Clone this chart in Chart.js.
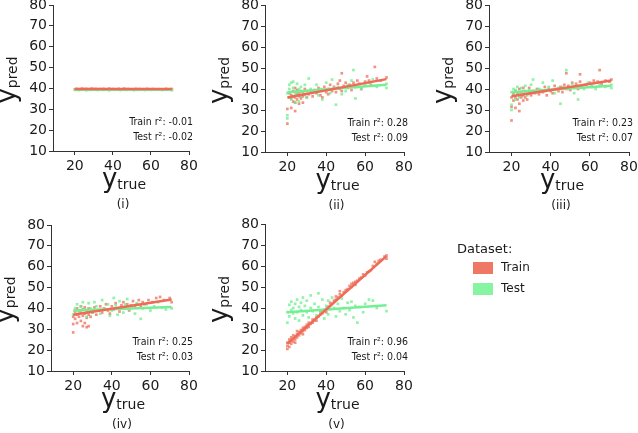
<!DOCTYPE html>
<html><head><meta charset="utf-8">
<script src="https://cdn.jsdelivr.net/npm/chart.js@4"></script>
<style>
html,body{margin:0;padding:0;background:#fff;width:638px;height:433px;overflow:hidden}
canvas{position:absolute}
</style></head><body>
<canvas id="c1"></canvas><canvas id="c2"></canvas><canvas id="c3"></canvas><canvas id="c4"></canvas><canvas id="c5"></canvas>
<script>
// ---------- data ----------
const xTicks = [20, 40, 60, 80];
const yTicks = [10, 20, 30, 40, 50, 60, 70, 80];
const panelLabels = ['(i)', '(ii)', '(iii)', '(iv)', '(v)'];
const seriesNames = ['Train', 'Test'];
const legendTitle = 'Dataset:';
const trainR2 = ['-0.01', '0.28', '0.23', '0.25', '0.96'];
const testR2 = ['-0.02', '0.09', '0.07', '0.03', '0.04'];

const train1 = [[20,39.6],[21,39.8],[22,39.5],[23,39.7],[24,39.9],[25,39.6],[26,39.8],[27,39.5],[28,39.7],[29,39.9],[30,39.6],[31,39.8],[33,39.7],[34,39.5],[35,39.8],[37,39.6],[38,39.9],[40,39.7],[41,39.5],[43,39.8],[45,39.6],[46,39.9],[48,39.7],[50,39.6],[52,39.8],[54,39.7],[56,39.6],[58,39.8],[61,39.7],[64,39.6],[68,39.8],[71,39.7]];
const test1 = [[20,39.3],[22,39.2],[24,39.4],[26,39.1],[28,39.3],[30,39.5],[32,39.2],[35,39.3],[38,39.1],[42,39.4],[44,39.2],[47,39.3],[51,39.1],[53,39.3],[55,39.4],[57,39.2],[60,39.3],[62,39.5],[66,39.2],[71,39.1]];
const trainFit1 = [[20,39.7],[71,39.7]];
const testFit1 = [[20,39.4],[71,39.4]];

const train2 = [[20,23.5],[20,30.5],[21,36],[21,38],[22,31],[22,35.5],[22,37],[23,34],[23,36.5],[23,39],[24,29.5],[24,33.5],[24,36],[24,38.5],[24,40.5],[25,35],[25,37.5],[25,39.5],[26,33],[26,36.5],[26,38],[27,35.5],[27,37],[27,39],[28,33.5],[28,36.5],[28,38.5],[29,37.5],[29,40],[30,36],[30,39],[31,37.5],[32,38.5],[33,36.5],[34,39.5],[35,38],[36,40.5],[37,37],[38,36],[38,39.5],[39,41],[40,38.5],[41,37.5],[41,40],[42,42],[43,39],[44,41],[45,38.5],[46,42.5],[47,40],[47,44],[48,47.5],[48,39],[49,41.5],[50,43],[51,40.5],[52,42],[53,39.5],[54,43],[55,41],[56,44],[57,42.5],[58,40],[60,43.5],[61,46],[62,44],[63,42],[65,50.5],[66,45],[68,44],[71,45.5]];
const test2 = [[20,26],[20,27.5],[20,38],[21,40],[21,42],[22,35],[22,38.5],[22,43],[23,40.5],[23,43.5],[24,33.5],[24,37],[25,42.5],[25,38],[26,34],[26,40],[27,36.5],[27,41],[28,38],[29,42],[30,36],[31,45],[32,40],[33,38.5],[35,42],[36,37],[37,40],[38,35],[40,43],[42,38],[43,44.5],[44,40.5],[45,32.5],[46,41],[48,37.5],[50,39],[51,42],[53,44],[54,49],[55,35.5],[56,41],[58,40],[60,42],[62,43],[64,44.5],[66,41],[71,40.5],[71,42.5]];
const trainFit2 = [[20,36],[71,44.7]];
const testFit2 = [[20,38.5],[71,42]];

const train3 = [[20,25],[20,31.5],[20,36],[21,34.5],[21,37.5],[22,31],[22,36],[22,39],[23,35],[23,38],[24,29.5],[24,33],[24,37],[24,40],[25,36],[25,38.5],[26,34.5],[26,37],[26,40.5],[27,36],[27,39],[28,37.5],[28,35],[29,38],[29,40.5],[30,37],[31,39],[32,38],[33,40],[34,37.5],[35,39.5],[36,38.5],[37,41],[38,37],[39,40],[40,39],[41,38],[42,41.5],[43,40],[44,39],[45,41],[46,38.5],[47,42],[48,47.5],[48,40],[49,41.5],[50,39.5],[51,43],[52,41],[53,42.5],[54,40],[55,47],[55,43.5],[56,41.5],[58,42],[60,43],[61,41],[62,44],[64,43.5],[65,49],[66,42.5],[68,44],[70,43.5],[71,44.5]];
const test3 = [[20,30],[20,32.5],[20,38.5],[21,37],[21,40],[22,39.5],[22,35],[23,41],[24,38],[24,36],[25,40.5],[26,39],[27,41.5],[28,37],[29,39.5],[30,42],[31,44.5],[32,38.5],[34,40],[36,43],[37,39],[39,41],[41,44],[42,38],[44,40.5],[45,33],[46,41],[48,49],[49,40],[51,42.5],[52,38],[54,35],[55,41],[57,40],[59,43],[61,41.5],[63,40],[65,42],[68,41],[71,40.5],[71,42]];
const trainFit3 = [[20,36.5],[71,44]];
const testFit3 = [[20,38.5],[71,41.5]];

const train4 = [[20,28.5],[20,32.5],[20,36],[21,35],[21,38.5],[22,33],[22,37],[22,40],[23,36],[23,39],[24,34],[24,38],[24,41],[25,31.5],[25,36.5],[25,39.5],[26,33],[26,37.5],[26,40.5],[27,31],[27,35.5],[27,38.5],[28,31.5],[28,37],[28,40],[29,36],[29,39],[30,38],[31,40.5],[32,37],[33,39],[34,41],[35,38],[36,40],[37,42],[38,39],[39,37.5],[40,41],[41,39.5],[42,42.5],[43,40],[44,38.5],[45,41.5],[46,43],[47,40],[48,42],[49,39],[50,41.5],[51,43.5],[52,40.5],[53,42],[54,44],[55,41],[56,43],[57,42],[59,44],[61,43],[63,45],[65,45.5],[67,44],[70,45],[71,43]];
const test4 = [[20,37],[21,40],[22,42],[23,38.5],[24,41],[25,43],[26,39.5],[27,36],[28,42.5],[29,40],[30,38],[31,43],[32,41],[34,37.5],[35,44],[36,40],[38,42],[39,36.5],[40,39],[41,45],[42,41.5],[43,37],[44,43.5],[45,40],[46,38],[47,42],[48,44.5],[49,39.5],[50,41],[52,37.5],[53,42.5],[55,35],[56,40],[58,42],[60,39],[62,41],[64,43],[66,40.5],[68,39.5],[71,40]];
const trainFit4 = [[20,37],[71,44.3]];
const testFit4 = [[20,39],[71,40.7]];

const train5 = [[20,20.5],[20,22],[20,23.5],[21,21.5],[21,23.5],[21,25],[22,23],[22,24.5],[22,26],[23,24],[23,25.5],[23,27],[24,25],[24,26.5],[24,23.5],[25,26],[25,27.5],[25,29],[26,27],[26,28.5],[27,28],[27,29.5],[28,29],[28,30.5],[28,27.5],[29,29.5],[29,31],[30,30.5],[30,32],[31,31],[31,33],[32,32.5],[33,33],[33,34.5],[34,34],[35,35.5],[35,34],[36,36],[37,37],[37,38.5],[38,37.5],[39,39],[40,39.5],[40,38],[41,40.5],[42,41],[42,42.5],[43,42],[44,43.5],[45,44],[45,45.5],[46,45],[47,46.5],[47,48],[48,46],[49,47.5],[50,48.5],[51,49],[52,50.5],[53,50],[53,51.5],[54,52],[55,51],[55,52.5],[56,53],[57,54],[58,54.5],[59,56],[60,55.5],[61,57],[62,57.5],[63,58],[64,60],[65,62],[66,61],[67,62.5],[68,63],[70,64.5],[71,65],[71,63.5]];
const test5 = [[20,33],[20,38],[21,41.5],[21,36],[22,39],[22,43],[23,37.5],[23,40],[24,42],[24,35],[25,38],[25,44],[26,40.5],[26,34],[27,39],[27,42.5],[28,36.5],[28,45],[29,41],[30,38],[30,43.5],[31,35.5],[32,40],[32,46],[33,38.5],[34,42],[35,36.5],[36,47],[36,40.5],[37,38],[38,44],[39,35],[40,41],[41,43.5],[41,37],[42,39.5],[43,45],[44,40],[45,36],[46,42],[47,38.5],[48,44.5],[49,40],[50,37],[51,42.5],[52,39],[53,43],[54,35.5],[55,41],[56,33],[57,40.5],[59,38],[60,42],[62,44],[64,43.5],[66,40],[71,38.5]];
const trainFit5 = [[20,23],[71,64.7]];
const testFit5 = [[20,38],[71,41.3]];

// ---------- styling / layout ----------
const FONT = '"DejaVu Sans", Verdana, sans-serif';
const TXT = '#1a1a1a';
const AX = '#333333';
const TRAIN_PT = 'rgba(236,110,90,0.75)';
const TEST_PT = 'rgba(110,238,140,0.75)';
const TRAIN_LINE = '#ee6b57';
const TEST_LINE = '#76ee94';
const TRAIN_BOX = '#ee7864';
const TEST_BOX = '#86f4a0';

const geo = [
  {cx:0,   cy:0,   cw:212, ch:215, l:53,  t:5,   r:189, b:151},
  {cx:212, cy:0,   cw:212, ch:215, l:265, t:5,   r:404, b:152},
  {cx:424, cy:0,   cw:214, ch:215, l:489, t:5,   r:629, b:152},
  {cx:0,   cy:215, cw:212, ch:218, l:51,  t:225, r:189, b:371},
  {cx:212, cy:215, cw:426, ch:218, l:265, t:224, r:404, b:371}
];

function textPlugin(i) {
  return {
    id: 'txt' + i,
    afterDraw(chart) {
      const ctx = chart.ctx, a = chart.chartArea;
      const mx = (a.left + a.right) / 2, my = (a.top + a.bottom) / 2;
      ctx.save();
      ctx.fillStyle = TXT;
      ctx.textBaseline = 'alphabetic';
      ctx.textAlign = 'left';
      const big = '26px ' + FONT, small = '14px ' + FONT;
      // x title
      ctx.font = big; const wy = ctx.measureText('y').width;
      ctx.font = small; const wt = ctx.measureText('true').width; const wp = ctx.measureText('pred').width;
      let x0 = mx - (wy + wt) / 2 + 3;
      ctx.font = big; ctx.fillText('y', x0, a.bottom + 36);
      ctx.font = small; ctx.fillText('true', x0 + wy, a.bottom + 38);
      // y title (rotated)
      ctx.save();
      ctx.translate(a.left - 38, my + 2);
      ctx.rotate(-Math.PI / 2);
      const s0 = -(wy + wp) / 2;
      ctx.font = big; ctx.fillText('y', s0, 0);
      ctx.font = small; ctx.fillText('pred', s0 + wy, 2);
      ctx.restore();
      // r2 annotations
      ctx.font = '10.5px "DejaVu Sans Condensed", "DejaVu Sans", sans-serif';
      ctx.textAlign = 'right';
      ctx.fillText('Train r\u00B2: ' + trainR2[i], a.right + 4, a.bottom - 26);
      ctx.fillText('Test r\u00B2: ' + testR2[i], a.right + 4, a.bottom - 11);
      // panel label
      ctx.font = '12px ' + FONT;
      ctx.textAlign = 'center';
      ctx.fillText(panelLabels[i], mx + 2, a.bottom + 57);
      if (i === 4) {
        // legend
        const g = geo[4];
        ctx.textAlign = 'left';
        ctx.font = '13px ' + FONT;
        ctx.fillText(legendTitle, 457 - g.cx, 253 - g.cy);
        ctx.font = '12px ' + FONT;
        ctx.textBaseline = 'middle';
        ctx.fillStyle = TRAIN_BOX; ctx.fillRect(473 - g.cx, 262 - g.cy, 20, 12);
        ctx.fillStyle = TEST_BOX; ctx.fillRect(473 - g.cx, 283 - g.cy, 20, 12);
        ctx.fillStyle = TXT;
        ctx.fillText(seriesNames[0], 501 - g.cx, 268 - g.cy);
        ctx.fillText(seriesNames[1], 501 - g.cx, 289 - g.cy);
      }
      ctx.restore();
    }
  };
}

function makePanel(i, train, test, trainFit, testFit) {
  const g = geo[i];
  const cv = document.getElementById('c' + (i + 1));
  cv.width = g.cw; cv.height = g.ch;
  cv.style.left = g.cx + 'px'; cv.style.top = g.cy + 'px';
  cv.style.width = g.cw + 'px'; cv.style.height = g.ch + 'px';
  const tickFont = {family: FONT, size: 14};
  new Chart(cv, {
    type: 'scatter',
    data: {
      datasets: [
        {label: 'Train fit', data: trainFit, showLine: true, pointRadius: 0, borderColor: TRAIN_LINE, borderWidth: 2.5, order: 0},
        {label: 'Test fit', data: testFit, showLine: true, pointRadius: 0, borderColor: TEST_LINE, borderWidth: 2.5, order: 1},
        {label: seriesNames[1], data: test, pointStyle: 'rect', pointRadius: 1.9, borderWidth: 0, backgroundColor: TEST_PT, order: 2},
        {label: seriesNames[0], data: train, pointStyle: 'rect', pointRadius: 1.9, borderWidth: 0, backgroundColor: TRAIN_PT, order: 3}
      ]
    },
    options: {
      responsive: false, animation: false, devicePixelRatio: 1,
      layout: {padding: {left: 0, top: g.t - g.cy, right: g.cx + g.cw - g.r, bottom: 0}},
      plugins: {legend: {display: false}, tooltip: {enabled: false}},
      scales: {
        x: {
          type: 'linear', min: 8.5, max: 80,
          afterBuildTicks: s => { s.ticks = xTicks.map(v => ({value: v})); },
          afterFit: s => { s.height = g.cy + g.ch - g.b; s.paddingLeft = 0; s.paddingRight = 0; },
          grid: {drawOnChartArea: false, drawTicks: true, tickLength: 4, tickColor: AX, color: AX},
          border: {display: true, color: AX, width: 1},
          ticks: {font: tickFont, color: TXT, padding: 3, maxRotation: 0, autoSkip: false}
        },
        y: {
          type: 'linear', min: 10, max: 80,
          afterBuildTicks: s => { s.ticks = yTicks.map(v => ({value: v})); },
          afterFit: s => { s.width = g.l - g.cx; s.paddingTop = 0; s.paddingBottom = 0; },
          grid: {drawOnChartArea: false, drawTicks: true, tickLength: 4, tickColor: AX, color: AX},
          border: {display: true, color: AX, width: 1},
          ticks: {font: tickFont, color: TXT, padding: 2, autoSkip: false}
        }
      }
    },
    plugins: [textPlugin(i)]
  });
}

makePanel(0, train1, test1, trainFit1, testFit1);
makePanel(1, train2, test2, trainFit2, testFit2);
makePanel(2, train3, test3, trainFit3, testFit3);
makePanel(3, train4, test4, trainFit4, testFit4);
makePanel(4, train5, test5, trainFit5, testFit5);
</script>
</body></html>
